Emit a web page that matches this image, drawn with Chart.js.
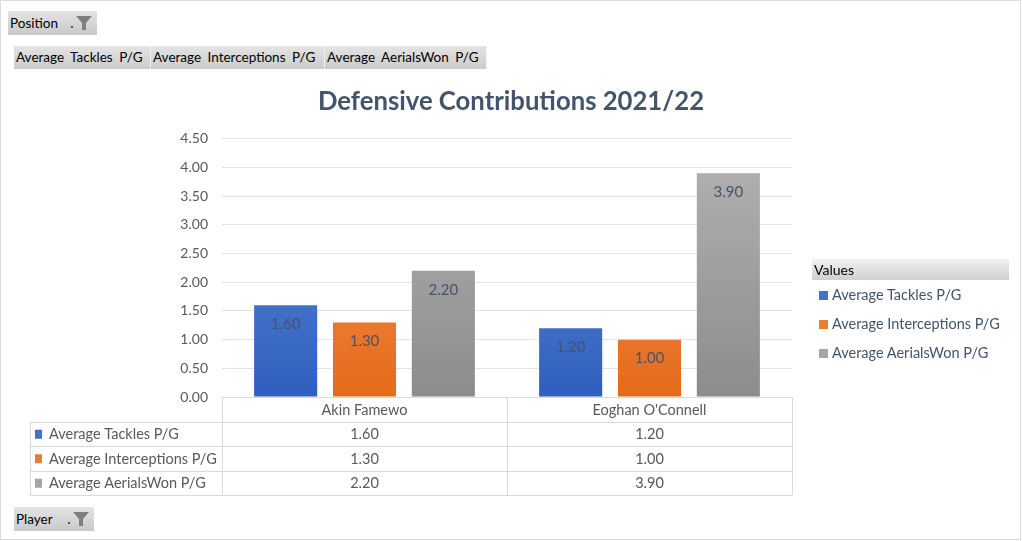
<!DOCTYPE html>
<html>
<head>
<meta charset="utf-8">
<script src="https://cdn.jsdelivr.net/npm/chart.js@4.4.0/dist/chart.umd.min.js"></script>
<style>
  body { margin: 0; background: #fff; font-family: Lato, "Open Sans", sans-serif; }
  #wrap { position: relative; width: 1022px; height: 541px; overflow: hidden; }
  #frame { position: absolute; left: 0; top: 0; width: 1019px; height: 538px; border: 1px solid #d9dce3; pointer-events: none; }
  .btn { position: absolute; background: linear-gradient(#e4e4e4, #c9c9c9); color: #000; font-size: 13.5px; line-height: 24px; height: 24px; box-sizing: border-box; padding-left: 2px; white-space: nowrap; }
  .btn .f { position: absolute; right: 3px; top: 4px; }
  .fld { position: absolute; top: 46px; height: 23px; line-height: 23px; background: linear-gradient(#e4e4e4, #cbcbcb); font-size: 13.5px; word-spacing: 3px; padding-left: 2px; box-sizing: border-box; border-right: 1px solid #f0f0f0; white-space: nowrap; }
  #legend { position: absolute; left: 812px; top: 259px; width: 197px; }
  #legend .hd { height: 21px; line-height: 21px; background: linear-gradient(#f2f2f2, #cfcfcf); font-size: 14px; color: #000; padding-left: 2px; }
  #legend .it { height: 29px; line-height: 29px; font-size: 14.5px; color: #44546a; padding-left: 7px; white-space: nowrap; }
  #legend .sw { display: inline-block; width: 9px; height: 9px; margin-right: 4px; }
</style>
</head>
<body>
<div id="wrap">
  <canvas id="rel1" width="1022" height="541"></canvas>
  <div class="btn" style="left:8px;top:11px;width:89px;">Position<svg class="f" width="28" height="16" viewBox="0 0 28 16"><rect x="5" y="11" width="2" height="2" fill="#555"/><path d="M10 1 L26 1 L20 8 L20 15 L16 15 L16 8 Z" fill="#7f7f7f"/></svg></div>
  <div class="fld" style="left:14px;width:137px;">Average Tackles P/G</div>
  <div class="fld" style="left:151px;width:174px;">Average Interceptions P/G</div>
  <div class="fld" style="left:325px;width:162px;">Average AerialsWon P/G</div>
  <div class="btn" style="left:14px;top:507px;width:80px;">Player<svg class="f" width="28" height="16" viewBox="0 0 28 16"><rect x="5" y="11" width="2" height="2" fill="#555"/><path d="M10 1 L26 1 L20 8 L20 15 L16 15 L16 8 Z" fill="#7f7f7f"/></svg></div>
  <div id="legend"><div class="hd">Values</div></div>
  <div id="frame"></div>
</div>
<script>
var players = ['Akin Famewo', "Eoghan O'Connell"];
var seriesNames = ['Average Tackles P/G', 'Average Interceptions P/G', 'Average AerialsWon P/G'];
var tackles = [1.60, 1.20];
var interceptions = [1.30, 1.00];
var aerials = [2.20, 3.90];
var yTicks = [0, 0.5, 1, 1.5, 2, 2.5, 3, 3.5, 4, 4.5];

var colors = [
    ['#5d86d2', '#2f5fbf', '#4472c4'],
    ['#f3915a', '#e46b19', '#ed7d31'],
    ['#adadad', '#8c8c8c', '#a5a5a5']
];

function grad(i) {
    return function (ctx) {
        var area = ctx.chart.chartArea;
        if (!area) return colors[i][2];
        var g = ctx.chart.ctx.createLinearGradient(0, area.top + 40, 0, area.bottom);
        g.addColorStop(0, colors[i][0]);
        g.addColorStop(1, colors[i][1]);
        return g;
    };
}

var FONT = 'Lato, "Open Sans", sans-serif';

var labelsPlugin = {
    id: 'barLabels',
    afterDatasetsDraw: function (chart) {
        var c = chart.ctx;
        c.save();
        c.font = '15px ' + FONT;
        c.fillStyle = '#44546a';
        c.textAlign = 'center';
        c.textBaseline = 'middle';
        chart.data.datasets.forEach(function (ds, i) {
            chart.getDatasetMeta(i).data.forEach(function (bar, j) {
                c.fillText(ds.data[j].toFixed(2), bar.x, bar.y + 19);
            });
        });
        c.restore();
    }
};

var tablePlugin = {
    id: 'dataTable',
    afterDraw: function (chart) {
        var c = chart.ctx;
        var a = chart.chartArea;
        var x = chart.scales.x;
        var top = a.bottom, rowH = 24.5, leftX = 30;
        var catW = (a.right - a.left) / players.length;
        c.save();
        c.strokeStyle = '#d9d9d9';
        c.lineWidth = 1;
        c.beginPath();
        c.moveTo(a.left, top + 0.5); c.lineTo(a.right, top + 0.5);
        for (var r = 1; r <= 4; r++) {
            var yy = Math.round(top + r * rowH) + 0.5;
            c.moveTo(leftX, yy); c.lineTo(a.right, yy);
        }
        for (var k = 0; k <= players.length; k++) {
            var xx = Math.round(a.left + k * catW) + 0.5;
            c.moveTo(xx, top); c.lineTo(xx, top + 4 * rowH);
        }
        c.moveTo(leftX + 0.5, top + rowH); c.lineTo(leftX + 0.5, top + 4 * rowH);
        c.stroke();

        c.font = '14.5px ' + FONT;
        c.fillStyle = '#595959';
        c.textBaseline = 'middle';
        c.textAlign = 'center';
        players.forEach(function (p, j) {
            c.fillText(p, x.getPixelForValue(j), top + rowH / 2 + 1);
        });
        chart.data.datasets.forEach(function (ds, i) {
            var cy = top + (i + 1.5) * rowH + 1;
            c.fillStyle = colors[i][2];
            c.fillRect(leftX + 5, cy - 5, 7, 9);
            c.fillStyle = '#595959';
            c.textAlign = 'left';
            c.fillText(ds.label, leftX + 19, cy);
            c.textAlign = 'center';
            ds.data.forEach(function (v, j) {
                c.fillText(v.toFixed(2), x.getPixelForValue(j), cy);
            });
        });
        c.restore();
    }
};

var rel1 = new Chart(document.getElementById('rel1'), {
    type: 'bar',
    data: {
        labels: players,
        datasets: [{
                label: seriesNames[0],
                data: tackles,
                backgroundColor: grad(0)
            },
            {
                label: seriesNames[1],
                data: interceptions,
                backgroundColor: grad(1)
            },
            {
                label: seriesNames[2],
                data: aerials,
                backgroundColor: grad(2)
            }]
    },
    options: {
        responsive: false,
        animation: false,
        categoryPercentage: 0.83,
        barPercentage: 0.8,
        layout: { padding: { left: 0, right: 0, top: 0, bottom: 144 } },
        plugins: {
            legend: { display: false },
            tooltip: { enabled: false },
            title: {
                display: true,
                text: 'Defensive Contributions 2021/22',
                color: '#44546a',
                font: { family: FONT, size: 25.7, weight: 'bold' },
                padding: { top: 86, bottom: 22 }
            }
        },
        scales: {
            x: { display: false },
            y: {
                min: 0,
                max: 4.5,
                afterFit: function (s) { s.width = 222; },
                afterBuildTicks: function (s) {
                    s.ticks = yTicks.map(function (v) { return { value: v }; });
                },
                border: { display: false },
                grid: { color: '#e3e3e3', drawTicks: false },
                ticks: {
                    padding: 14,
                    color: '#595959',
                    font: { family: FONT, size: 14 },
                    callback: function (v) { return v.toFixed(2); }
                }
            },
            // empty right-hand strip where the legend sits
            side: {
                position: 'right',
                afterFit: function (s) { s.width = 230; },
                border: { display: false },
                grid: { display: false },
                ticks: { display: false }
            }
        }
    },
    plugins: [labelsPlugin, tablePlugin]
});

var leg = document.getElementById('legend');
seriesNames.forEach(function (n, i) {
    var d = document.createElement('div');
    d.className = 'it';
    d.innerHTML = '<span class="sw" style="background:' + colors[i][2] + '"></span>' + n;
    leg.appendChild(d);
});
</script>
</body>
</html>
